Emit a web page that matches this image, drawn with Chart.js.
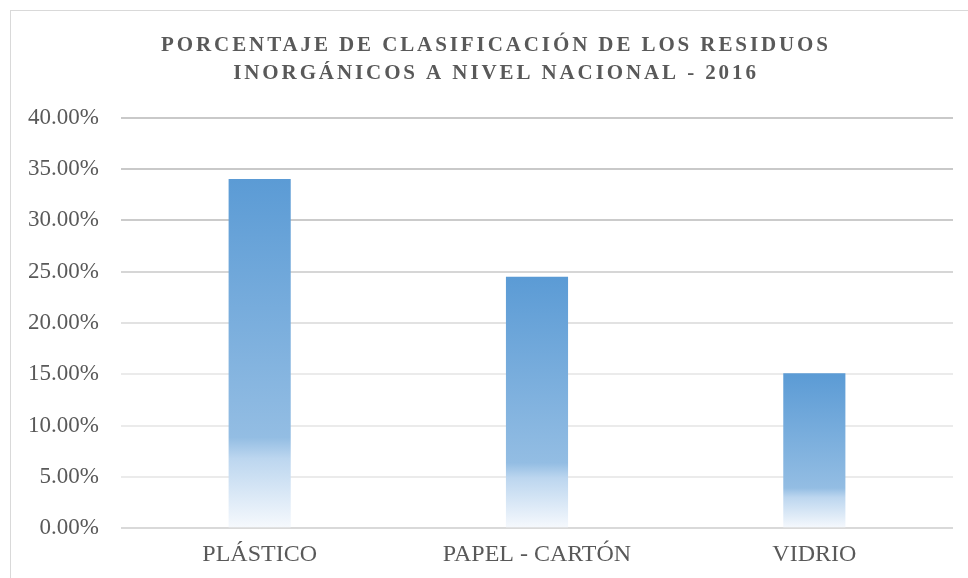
<!DOCTYPE html>
<html>
<head>
<meta charset="utf-8">
<script src="https://cdn.jsdelivr.net/npm/chart.js@4.4.1/dist/chart.umd.min.js"></script>
<style>
  html, body { margin: 0; padding: 0; background: #fff; width: 968px; height: 578px; overflow: hidden; }
  #wrap { position: absolute; left: 10px; top: 10px; width: 972px; height: 590px; border: 1px solid #d9d9d9; box-sizing: border-box; background: #fff; }
  #c { position: absolute; left: -1px; top: -1px; }
</style>
</head>
<body>
<div id="wrap"><canvas id="c" width="972" height="578"></canvas></div>
<script>
const titleLines = ["PORCENTAJE DE CLASIFICACIÓN DE LOS RESIDUOS", "INORGÁNICOS A NIVEL NACIONAL - 2016"];
const categories = ["PLÁSTICO", "PAPEL - CARTÓN", "VIDRIO"];
const values = [34.05, 24.5, 15.1];
const yMin = 0, yMax = 40, yStep = 5;

const gridColors = {40: '#c9c9c9', 35: '#c9c9c9', 30: '#cbcbcb', 25: '#d6d6d6', 20: '#e2e2e2', 15: '#ebebeb', 10: '#ebebeb', 5: '#ebebeb', 0: '#d9d9d9'};

const spacingPlugin = {
  id: 'titleSpacing',
  beforeDraw(chart) { chart.ctx.letterSpacing = '2.9px'; },
  beforeDatasetsDraw(chart) { chart.ctx.letterSpacing = '0px'; }
};

function barFill(c) {
  const chart = c.chart;
  const y = chart.scales && chart.scales.y;
  if (!y || c.raw === undefined) return '#5b9bd5';
  const top = y.getPixelForValue(c.raw);
  const bot = y.getPixelForValue(0);
  if (!isFinite(top) || !isFinite(bot) || bot - top < 1) return '#5b9bd5';
  const g = chart.ctx.createLinearGradient(0, top, 0, bot);
  g.addColorStop(0, '#5b9bd5');
  g.addColorStop(0.74, '#93bde3');
  g.addColorStop(0.80, '#bcd6ef');
  g.addColorStop(1, '#f6f9fd');
  return g;
}

const serif = '"Liberation Serif", "Times New Roman", serif';

new Chart(document.getElementById('c'), {
  type: 'bar',
  data: {
    labels: categories,
    datasets: [{ data: values, backgroundColor: barFill, borderWidth: 0, categoryPercentage: 1, barPercentage: 0.224 }]
  },
  plugins: [spacingPlugin],
  options: {
    responsive: false,
    animation: false,
    layout: { padding: { left: 0, right: 0, top: 0, bottom: 7 } },
    plugins: {
      legend: { display: false },
      tooltip: { enabled: false },
      title: {
        display: true,
        text: titleLines,
        color: '#595959',
        font: { family: serif, size: 21, weight: 'bold', lineHeight: 1.33 },
        padding: { top: 22, bottom: 30 }
      }
    },
    scales: {
      x: {
        grid: { display: false, drawTicks: false },
        border: { display: false },
        ticks: { color: '#595959', padding: 12, z: 1, font: { family: serif, size: 24 } }
      },
      y: {
        min: yMin, max: yMax,
        afterFit(s) { s.width = 111; },
        grid: { drawTicks: false, lineWidth: 2, color: (c) => gridColors[c.tick ? c.tick.value : 0] || '#e6e6e6' },
        border: { display: false },
        ticks: {
          stepSize: yStep, padding: 22, z: 1, color: '#595959',
          font: { family: serif, size: 23 },
          callback: (v) => v.toFixed(2) + '%'
        }
      },
      yRight: {
        position: 'right',
        min: yMin, max: yMax,
        afterFit(s) { s.width = 29; },
        grid: { display: false, drawTicks: false },
        border: { display: false },
        ticks: { display: false }
      }
    }
  }
});
</script>
</body>
</html>
